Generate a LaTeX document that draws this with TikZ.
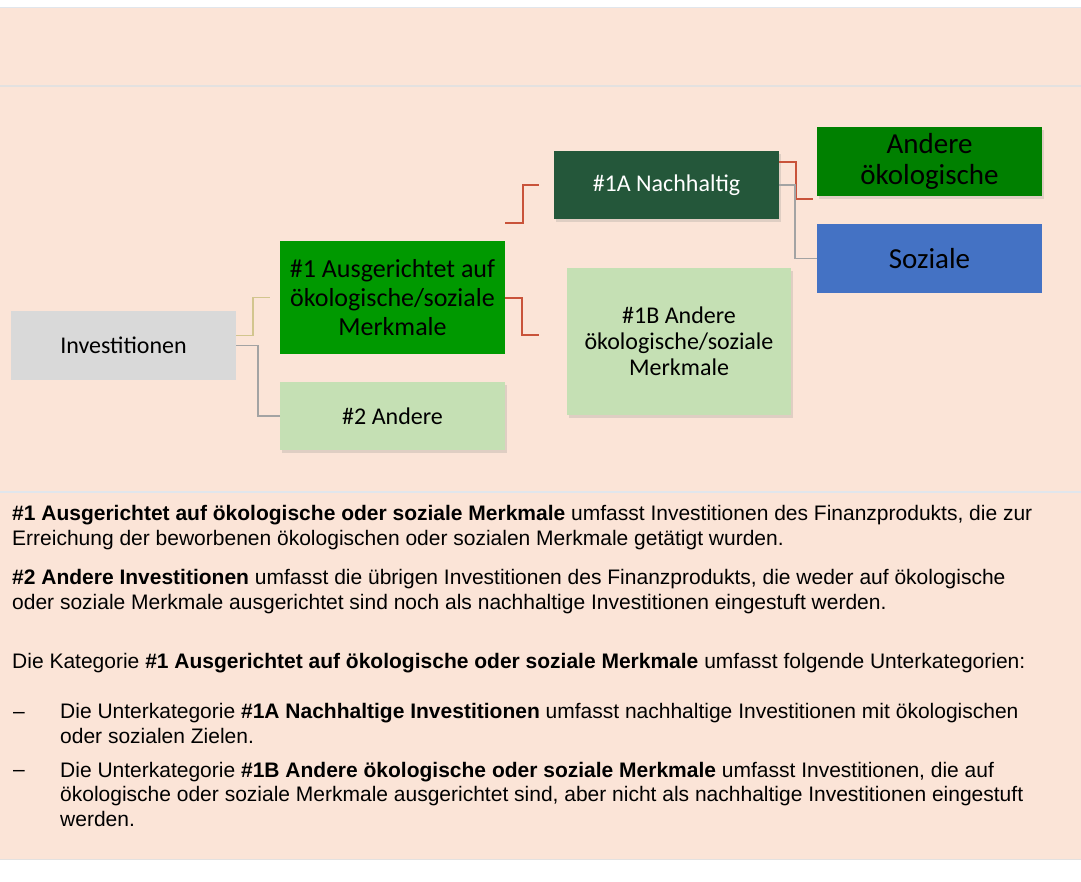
\documentclass[tikz,border=0pt]{standalone}
\usepackage{fontspec}
\setmainfont{Liberation Sans}
\newfontfamily\boxfont{Carlito}
\usetikzlibrary{calc,shadows}
\definecolor{peach}{HTML}{FBE4D7}
\definecolor{rulegray}{HTML}{E3E1E0}
\definecolor{ruleblue}{HTML}{E1E6EC}
\definecolor{invgray}{HTML}{D9D9D9}
\definecolor{midgreen}{HTML}{009900}
\definecolor{palegreen}{HTML}{C5E0B4}
\definecolor{darkgreen}{HTML}{24573A}
\definecolor{puregreen}{HTML}{008000}
\definecolor{sozblue}{HTML}{4472C4}
\definecolor{linkred}{HTML}{C9533A}
\definecolor{linkgray}{HTML}{A3A3A3}
\definecolor{linktan}{HTML}{D2C58E}
\tikzset{
  box/.style={draw=none, inner sep=0pt, align=center, minimum width=225pt, minimum height=68pt,
    font=\boxfont\fontsize{24}{26}\selectfont},
  bigbox/.style={box, font=\boxfont\fontsize{26}{29}\selectfont},
  hugebox/.style={box, font=\boxfont\fontsize{29}{31}\selectfont},
  shadowed/.style={drop shadow={opacity=0.22, shadow xshift=2pt, shadow yshift=-3pt}},
  redlink/.style={draw=linkred, line width=2pt},
  graylink/.style={draw=linkgray, line width=1.5pt},
  tanlink/.style={draw=linktan, line width=1.5pt},
  para/.style={anchor=base west, align=left, inner sep=0pt, font=\fontsize{21}{24.5}\selectfont}
}

\begin{document}
\begin{tikzpicture}[x=1pt, y=-1pt]
\useasboundingbox (0,0) rectangle (1081,881);
\fill[white] (0,0) rectangle (1081,881);
\fill[peach] (0,8) rectangle (1081,859);
\draw[ruleblue, line width=1.2pt] (0,7.5) -- (1081,7.5);
\draw[rulegray, line width=1.5pt] (0,86) -- (1081,86);
\draw[ruleblue, line width=1.2pt] (0,492) -- (1081,492);
\draw[rulegray, line width=1.5pt] (0,859.5) -- (1081,859.5);

\node[box, fill=invgray, minimum height=69pt] (inv) at (123.5,345.5) {Investitionen};
\node[bigbox, fill=midgreen, minimum height=113pt] (aus) at (392.5,297.5) {\#1 Ausgerichtet auf\\ökologische/soziale\\Merkmale};
\node[box, fill=palegreen, shadowed] (and2) at (392.5,416) {\#2 Andere};
\node[box, fill=darkgreen, text=white, shadowed] (nach) at (666.5,185) {\#1A Nachhaltig};
\node[box, fill=palegreen, minimum width=224pt, minimum height=147pt, shadowed] (andoek) at (679,341.5) {\#1B Andere\\ökologische/soziale\\Merkmale};
\node[hugebox, fill=puregreen, minimum height=69pt, shadowed] (oek) at (929.5,161.5) {Andere\\ökologische};
\node[hugebox, fill=sozblue, minimum height=69pt] (soz) at (929.5,258.5) {Soziale};

\coordinate (ausIn) at ([xshift=-10pt]aus.west);
\coordinate (ausTop) at ([yshift=18pt]aus.north east);
\coordinate (nachIn) at ([xshift=-15pt]nach.west);
\coordinate (andoekIn) at ([xshift=-28pt,yshift=6.5pt]andoek.west);
\coordinate (oekIn) at ([xshift=-4pt,yshift=-3pt]oek.south west);

\draw[tanlink] ([yshift=10pt]inv.east) -- ++(17,0) |- (ausIn);
\draw[graylink] (inv.east) -- ++(22,0) |- (and2.west);
\draw[redlink] (ausTop) -- ++(18,0) |- (nachIn);
\draw[redlink] (aus.east) -- ++(17,0) |- (andoekIn);
\draw[redlink] ([yshift=23pt]nach.east) -- ++(17,0) |- (oekIn);
\draw[graylink] (nach.east) -- ++(16,0) |- (soz.west);

\node[para] (p1) at (12,545) {\textbf{\#1 Ausgerichtet auf ökologische oder soziale Merkmale} umfasst Investitionen des Finanzprodukts, die zur\\Erreichung der beworbenen ökologischen oder sozialen Merkmale getätigt wurden.};
\node[para] (p2) at (12,609) {\textbf{\#2 Andere Investitionen} umfasst die übrigen Investitionen des Finanzprodukts, die weder auf ökologische\\oder soziale Merkmale ausgerichtet sind noch als nachhaltige Investitionen eingestuft werden.};
\node[para] (p3) at (12,668) {Die Kategorie \textbf{\#1 Ausgerichtet auf ökologische oder soziale Merkmale} umfasst folgende Unterkategorien:};
\node[para] (d1) at (13,718) {--};
\node[para] (b1) at (60,743) {Die Unterkategorie \textbf{\#1A Nachhaltige Investitionen} umfasst nachhaltige Investitionen mit ökologischen\\oder sozialen Zielen.};
\node[para] (d2) at (13,776) {--};
\node[para] (b2) at (60,826) {Die Unterkategorie \textbf{\#1B Andere ökologische oder soziale Merkmale} umfasst Investitionen, die auf\\ökologische oder soziale Merkmale ausgerichtet sind, aber nicht als nachhaltige Investitionen eingestuft\\werden.};
\end{tikzpicture}
\end{document}
